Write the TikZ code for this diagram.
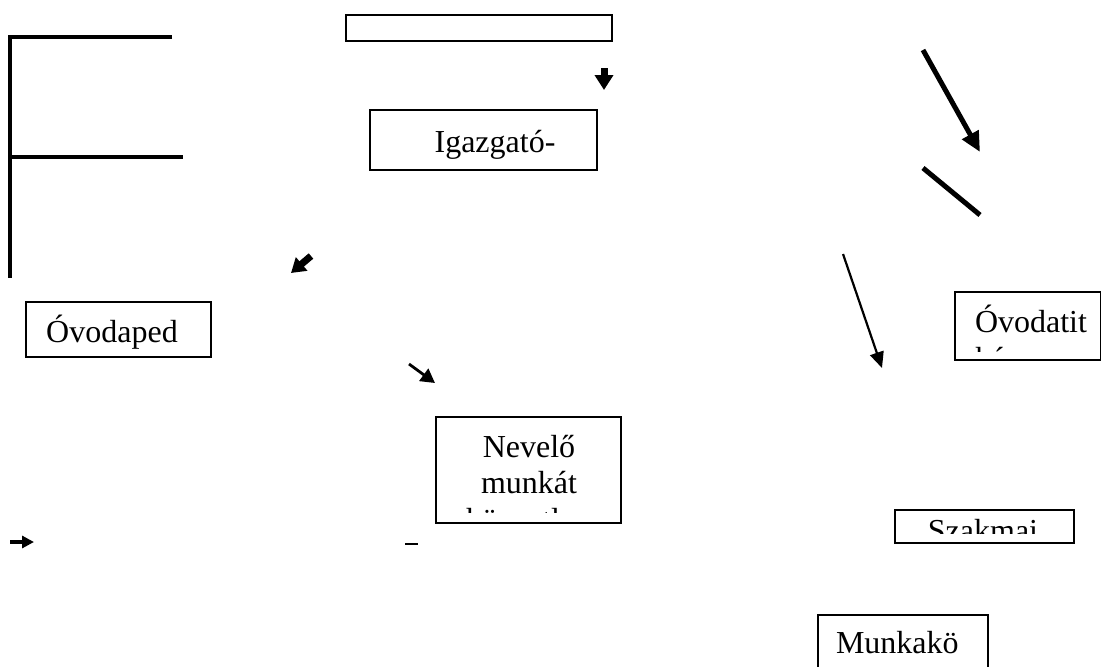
\documentclass[tikz,border=0pt]{standalone}
\usepackage{fontspec}
\setmainfont{Liberation Serif}
\usetikzlibrary{arrows.meta}
\begin{document}
\begin{tikzpicture}[x=1pt,y=-1pt,
  box/.style={draw, line width=1.2pt, inner sep=0pt, outer sep=0pt, anchor=north west},
  lbl/.style={font=\fontsize{32}{36.8}\selectfont, inner sep=0pt, outer sep=0pt},
  thickline/.style={line width=5pt},
  bracket/.style={line width=3.5pt, line join=miter}]
\useasboundingbox (0,0) rectangle (1101,667);

% boxes
\node[box, minimum width=266pt, minimum height=26pt] (topbox) at (346,15) {};
\node[box, minimum width=227pt, minimum height=60pt] (igazgato) at (370,110) {};
\node[box, minimum width=185pt, minimum height=55pt] (ovodaped) at (26,302) {};
\node[box, minimum width=146pt, minimum height=68pt] (ovodatit) at (955,292) {};
\node[box, minimum width=185pt, minimum height=106pt] (nevelo) at (436,417) {};
\node[box, minimum width=179pt, minimum height=33pt] (szakmai) at (895,510) {};
\node[box, minimum width=170pt, minimum height=60pt] (munkako) at (818,615) {};

% texts
\node[lbl, anchor=base] (t-igazgato) at (495,152) {Igazgató-};
\node[lbl, anchor=base] (t-ovodaped) at (112,342) {Óvodaped};
\begin{scope}
  \clip (955,292) rectangle (1101,351);
  \node[lbl, anchor=base west] (t-ovodatit1) at (975,332) {Óvodatit};
  \node[lbl, anchor=base west] (t-ovodatit2) at (975,369) {kár};
\end{scope}
\begin{scope}
  \clip (436,417) rectangle (621,512);
  \node[lbl, anchor=base] (t-nevelo1) at (529,457) {Nevelő};
  \node[lbl, anchor=base] (t-nevelo2) at (529,493.8) {munkát};
  \node[lbl, anchor=base] (t-nevelo3) at (528,530.6) {közvetlen};
\end{scope}
\begin{scope}
  \clip (895,510) rectangle (1074,533);
  \node[lbl, anchor=base] (t-szakmai) at (983,541) {Szakmai};
\end{scope}
\node[lbl, anchor=base west] (t-munkako) at (836,653) {Munkakö};

% left bracket
\coordinate (b1) at (172,37);
\coordinate (b2) at (10,37);
\coordinate (b3) at (10,278);
\coordinate (b4) at (10,157);
\coordinate (b5) at (183,157);
\draw[bracket] (b1) -- (b2) -- (b3);
\draw[bracket] (b4) -- (b5);

% arrows
\coordinate (a1s) at (604,68);
\coordinate (a1e) at (604,90);
\draw[line width=7pt, -{Triangle[length=15pt,width=18pt]}] (a1s) -- (a1e);

\coordinate (a2s) at (311,256);
\coordinate (a2e) at (291,273);
\draw[line width=7pt, -{Triangle[length=14pt,width=17pt]}] (a2s) -- (a2e);

\coordinate (a3s) at (409,364);
\coordinate (a3e) at (435,383);
\draw[line width=2.8pt, -{Triangle[length=14pt,width=15pt]}] (a3s) -- (a3e);

\coordinate (a4s) at (843,254);
\coordinate (a4e) at (882,368);
\draw[line width=2.2pt, -{Triangle[length=16pt,width=14pt]}] (a4s) -- (a4e);

\coordinate (a5s) at (923,50);
\coordinate (a5e) at (980,152);
\draw[thickline, -{Triangle[length=20pt,width=18pt]}] (a5s) -- (a5e);

\coordinate (l1s) at (923,168);
\coordinate (l1e) at (980,215);
\draw[thickline] (l1s) -- (l1e);

\coordinate (a6s) at (10,542);
\coordinate (a6e) at (34,542);
\draw[line width=3.5pt, -{Triangle[length=12pt,width=12pt]}] (a6s) -- (a6e);

\coordinate (d1s) at (405,544);
\coordinate (d1e) at (418,544);
\draw[line width=1.5pt] (d1s) -- (d1e);
\end{tikzpicture}
\end{document}
